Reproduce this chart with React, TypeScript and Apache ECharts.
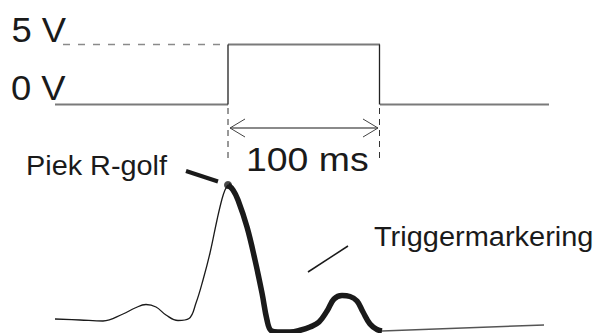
import React, { useEffect, useRef } from "react";
import * as echarts from "echarts";

// Trigger pulse (x in px-like units, y inverted)
const pulseLowLeft: number[][] = [[55, 104.5], [228, 104.5]];
const pulseHigh: number[][] = [[228, 44.5], [380, 44.5]];
const pulseLowRight: number[][] = [[380, 104.5], [549, 104.5]];
const pulseEdges: number[][] = [[228, 104.5], [228, 44.5], null as any, [379.5, 44.5], [379.5, 104.5]];
const level5Dashed: number[][] = [[63, 44.5], [228, 44.5]];
const markerLeft: number[][] = [[228, 108], [228, 162]];
const markerRight: number[][] = [[379.5, 108], [379.5, 158]];
const durationArrow: number[][] = [[230, 128], [378, 128]];
const arrowHeadLeft: number[][] = [[245, 119], [230, 128], [245, 137]];
const arrowHeadRight: number[][] = [[363, 119], [378, 128], [363, 137]];

// ECG trace
const ecgThin: number[][] = [
  [55, 319], [80, 320], [103, 321], [123, 314], [135, 308], [146, 304.5], [156, 307],
  [166, 315], [178, 320.5], [189, 318.5], [196, 303], [203, 280], [210, 253], [217, 220],
  [222, 199], [225, 190], [228, 185],
];
const ecgThick: number[][] = [
  [228, 185], [233, 190], [238, 200], [247, 227], [255, 260], [262, 293], [267, 320],
  [271, 330.5], [278, 332], [290, 332], [301, 330], [310, 327], [319, 322], [327, 311],
  [334, 299], [342, 295.5], [350, 296.5], [357, 301], [363, 312], [370, 324], [377, 329.5], [382, 331],
];
const ecgTail: number[][] = [[382, 331], [544, 325]];
const rPeak: number[][] = [[228, 185]];

// Annotation pointers
const peakPointer: number[][] = [[186, 171], [218, 181.5]];
const triggerPointer: number[][] = [[308, 272], [348, 246]];

// Texts
const labelV5 = "5 V";
const labelV0 = "0 V";
const labelDuration = "100 ms";
const labelPeak = "Piek R-golf";
const labelTrigger = "Triggermarkering";

const FONT = "Liberation Sans";

function lineSeries(data: number[][], color: string, width: number, extra: any = {}) {
  const { lineStyle, ...rest } = extra;
  return {
    type: "line",
    data,
    symbol: "none",
    silent: true,
    connectNulls: false,
    lineStyle: { color, width, cap: "butt", join: "round", ...(lineStyle || {}) },
    ...rest,
  };
}

function textEl(text: string, x: number, y: number, size: number, scaleX = 1) {
  return {
    type: "text",
    x,
    y,
    scaleX,
    style: {
      text,
      fontFamily: FONT,
      fontSize: size,
      fill: "#1a1a1a",
      verticalAlign: "middle",
      align: "left",
    },
  };
}

export default function App() {
  const ref = useRef<HTMLDivElement>(null);
  useEffect(() => {
    if (!ref.current) return;
    const chart = echarts.init(ref.current, undefined, { renderer: "svg" });
    const option: any = {
      animation: false,
      backgroundColor: "#ffffff",
      grid: { left: 0, top: 0, right: 0, bottom: 0 },
      xAxis: { type: "value", min: 0, max: 594, show: false },
      yAxis: { type: "value", min: 0, max: 333, inverse: true, show: false },
      series: [
        lineSeries(level5Dashed, "#8a8a8a", 1.5, { lineStyle: { type: [7, 8] } }),
        lineSeries(pulseLowLeft, "#7a7a7a", 2),
        lineSeries(pulseHigh, "#7a7a7a", 2),
        lineSeries(pulseLowRight, "#7a7a7a", 2),
        lineSeries(pulseEdges, "#222222", 1.3),
        lineSeries(markerLeft, "#333333", 1, { lineStyle: { type: [6, 5] } }),
        lineSeries(markerRight, "#333333", 1, { lineStyle: { type: [6, 5] } }),
        lineSeries(durationArrow, "#8a8a8a", 2),
        lineSeries(arrowHeadLeft, "#444444", 1),
        lineSeries(arrowHeadRight, "#444444", 1),
        lineSeries(ecgThin, "#1a1a1a", 1.3, { smooth: 0.4 }),
        lineSeries(ecgThick, "#1a1a1a", 5.5, { smooth: 0.4 }),
        lineSeries(ecgTail, "#555555", 1.5),
        lineSeries(peakPointer, "#1a1a1a", 4),
        lineSeries(triggerPointer, "#1a1a1a", 1.5),
        {
          type: "scatter",
          data: rPeak,
          symbol: "circle",
          symbolSize: 8,
          silent: true,
          itemStyle: { color: "#1a1a1a" },
        },
      ],
      graphic: [
        textEl(labelV5, 11.5, 30.5, 35, 1.04),
        textEl(labelV0, 11, 88.5, 35, 1.04),
        textEl(labelDuration, 246, 160, 34, 1.1),
        textEl(labelPeak, 26, 165.5, 28, 1.03),
        textEl(labelTrigger, 374, 236.5, 28, 1.035),
      ],
    };
    chart.setOption(option);
    return () => chart.dispose();
  }, []);
  return (
    <div
      ref={ref}
      style={{ position: "absolute", left: 0, top: 0, width: 594, height: 333, background: "#fff" }}
    />
  );
}
